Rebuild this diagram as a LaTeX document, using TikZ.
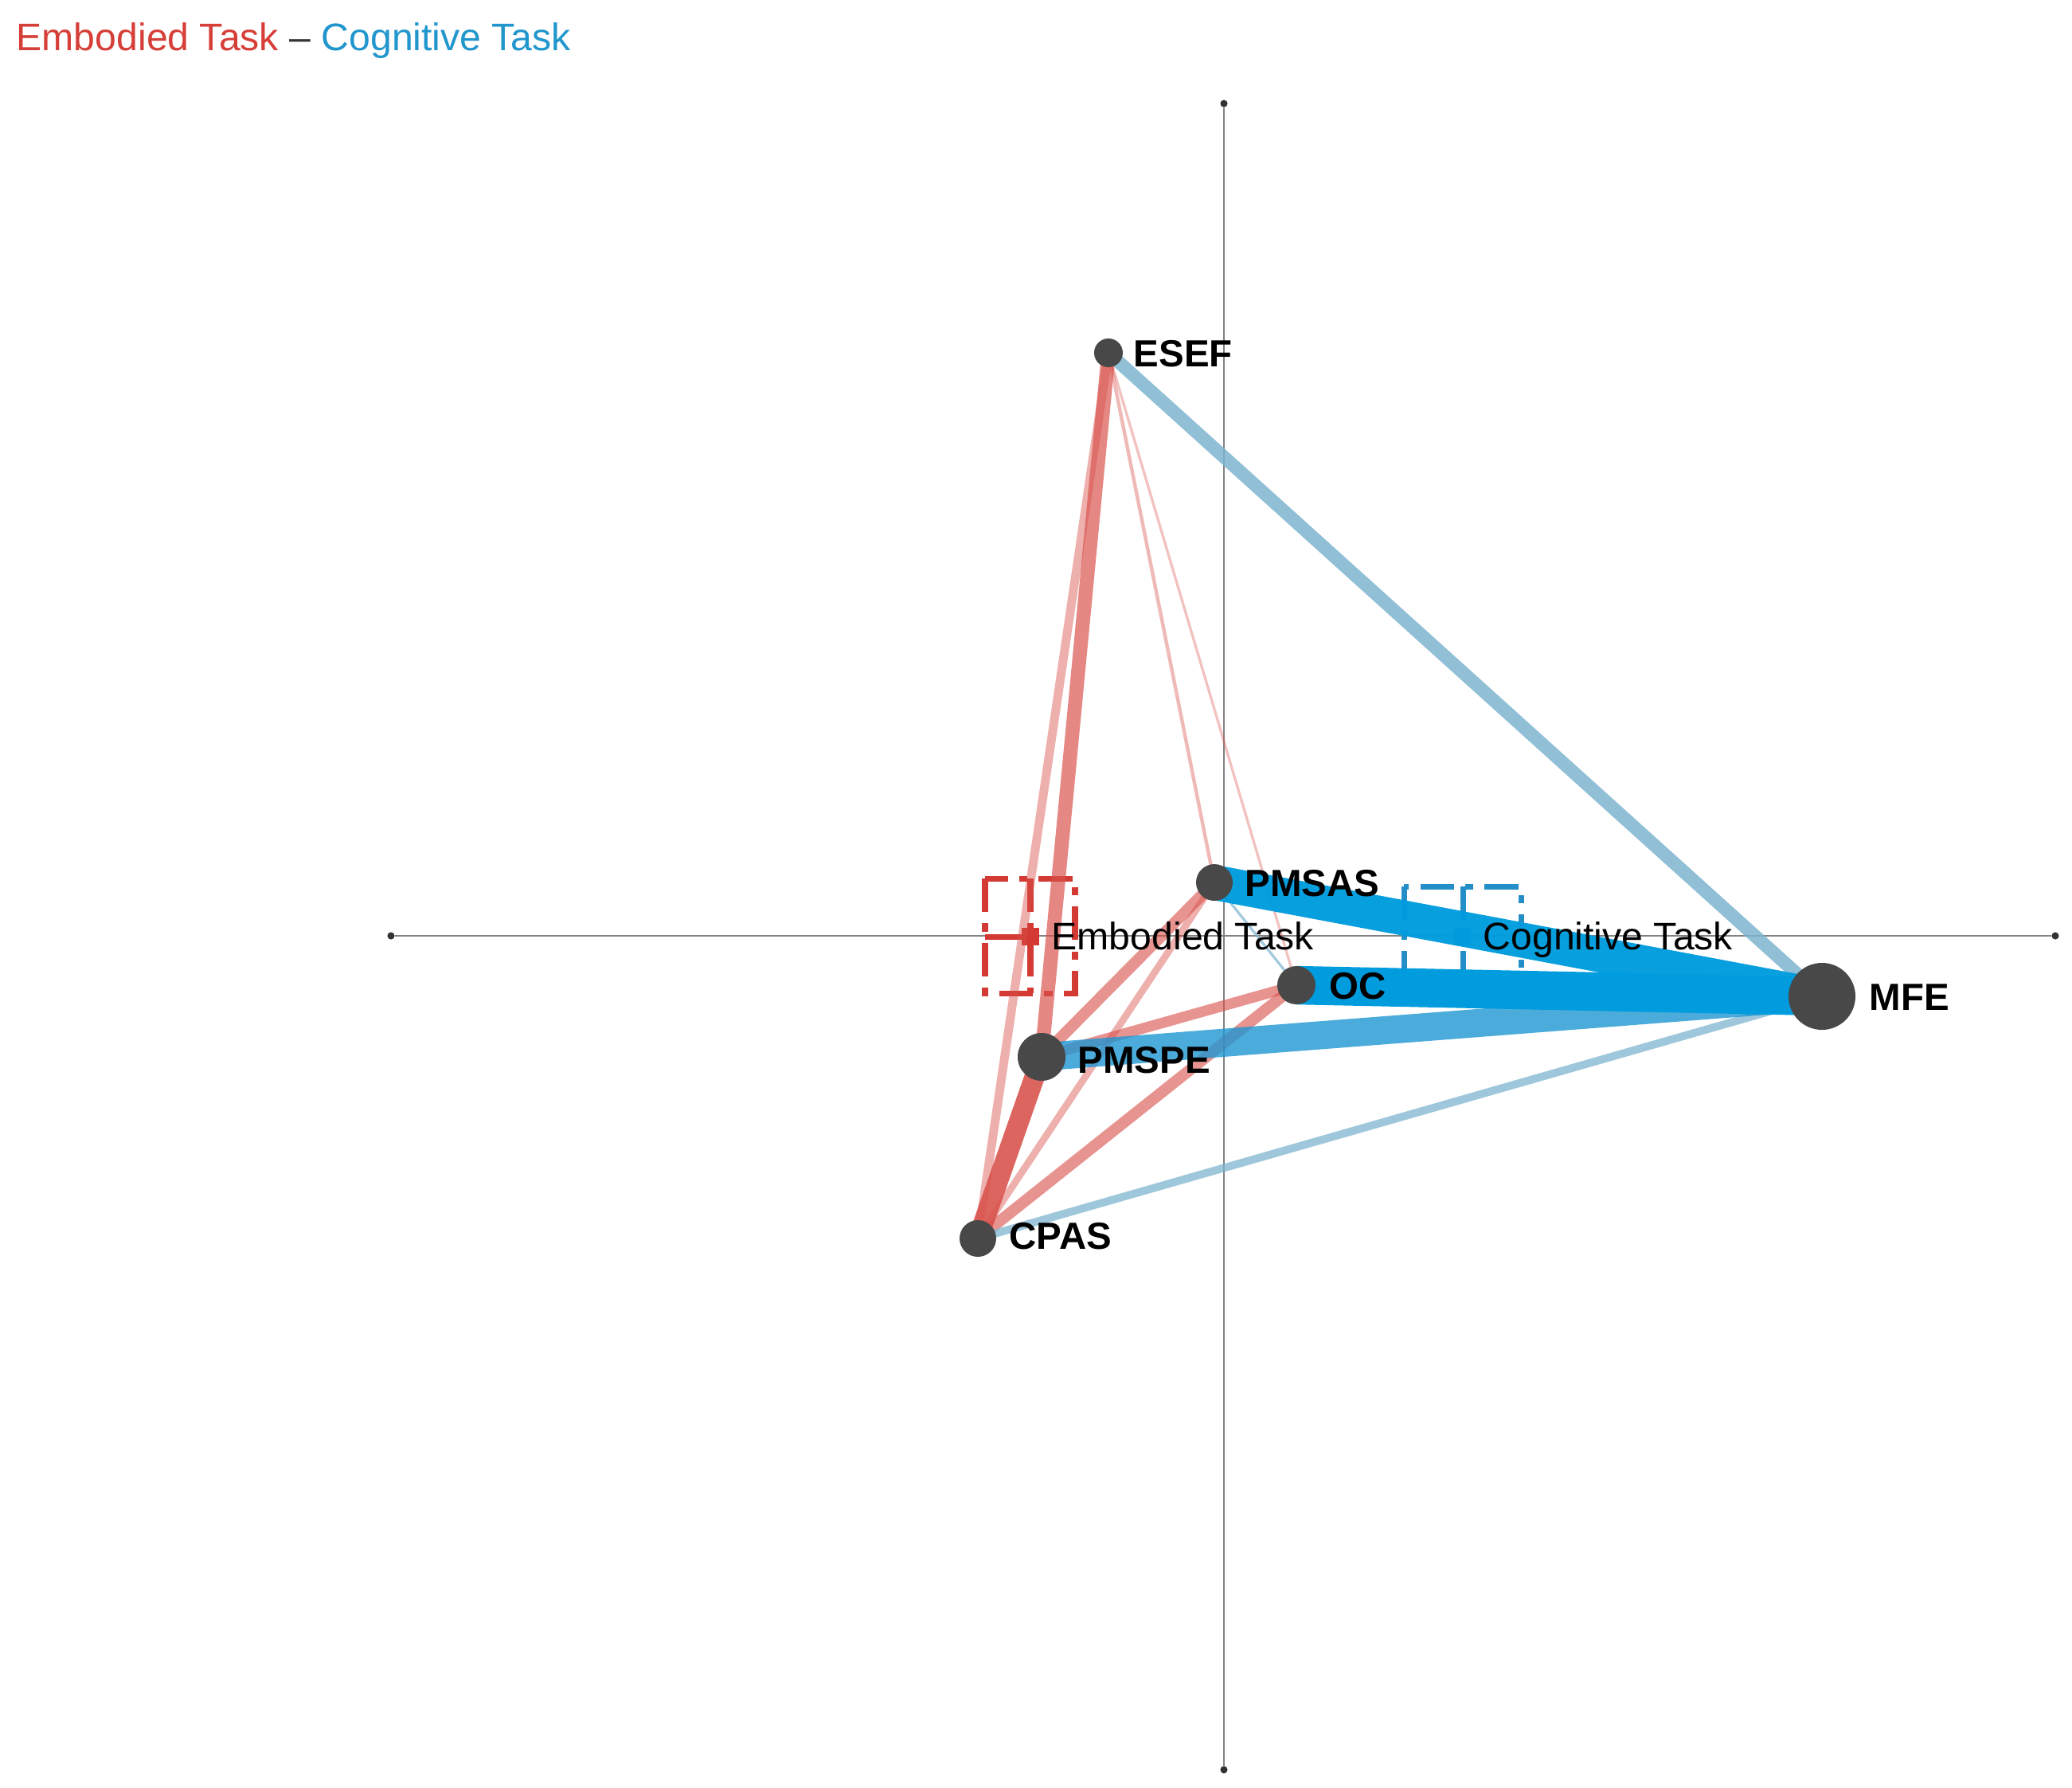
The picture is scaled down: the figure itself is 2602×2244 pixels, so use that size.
\documentclass[tikz,border=0pt]{standalone}
\usepackage{fontspec}
\setmainfont{Liberation Sans}
\definecolor{redT}{RGB}{214,62,56}
\definecolor{blueT}{RGB}{33,150,204}
\definecolor{redE}{RGB}{216,80,74}
\definecolor{blueV}{RGB}{0,156,222}
\definecolor{blueP}{RGB}{30,150,210}
\definecolor{blueS}{RGB}{125,180,207}
\definecolor{nodeG}{RGB}{72,72,72}
\definecolor{axisG}{RGB}{130,130,130}
\definecolor{redM}{RGB}{212,58,52}
\definecolor{blueM}{RGB}{35,142,200}
\begin{document}
\begin{tikzpicture}[x=0.01cm,y=-0.01cm,
  pt/.style={circle,fill=nodeG,inner sep=0pt,minimum size=#1*0.569pt},
  lab/.style={anchor=base west,inner sep=0pt,font=\fontsize{13.5pt}{15pt}\selectfont\bfseries},
  tlab/.style={anchor=base west,inner sep=0pt,font=\fontsize{13.7pt}{16pt}\selectfont},
  edge/.style 2 args={line width=#1*0.313pt,draw opacity=#2},
  axisline/.style={draw=axisG,line width=0.6pt},
  axend/.style={circle,fill=black!80,inner sep=0pt,minimum size=2.6pt},
  catmark/.style={line width=2pt,dash pattern=on 12pt off 4pt on 3pt off 4pt},
  catsq/.style={inner sep=0pt,minimum size=6pt}
]
\useasboundingbox (0,0) rectangle (2602,2244);
% title
\node[tlab] (title) at (20,63) {\textcolor{redT}{Embodied Task} \textcolor{black!80}{–} \textcolor{blueT}{Cognitive Task}};
% axes
\node[axend] (axL) at (491,1175) {};
\node[axend] (axR) at (2581,1175) {};
\node[axend] (axT) at (1537,130) {};
\node[axend] (axB) at (1537,2222) {};
\draw[axisline] (axL) -- (axR);
\draw[axisline] (axT) -- (axB);
% category markers
\draw[redM,catmark] (1237,1103) rectangle (1350,1247);
\draw[redM,catmark] (1294,1103) -- (1294,1247);
\draw[redM,line width=2pt] (1237,1176) -- (1290,1176);
\node[catsq,fill=redM] (mE) at (1294,1176) {};
\draw[blueM,catmark] (1763,1113) rectangle (1910,1240);
\draw[blueM,catmark] (1837,1113) -- (1837,1240);
\node[catsq,fill=blueM] (mC) at (1837,1176) {};
% node coordinates
\coordinate (cESEF) at (1392,443);
\coordinate (cPMSAS) at (1525,1108);
\coordinate (cOC) at (1628,1237);
\coordinate (cMFE) at (2288,1251);
\coordinate (cPMSPE) at (1308,1327);
\coordinate (cCPAS) at (1228,1555);
% red edges
\draw[redE,edge={16}{0.68}] (cESEF) -- (cPMSPE);
\draw[redE,edge={10}{0.45}] (cESEF) -- (cCPAS);
\draw[redE,edge={4}{0.4}] (cESEF) -- (cPMSAS);
\draw[redE,edge={3}{0.35}] (cESEF) -- (cOC);
\draw[redE,edge={8}{0.45}] (cCPAS) -- (cPMSAS);
\draw[redE,edge={13}{0.62}] (cCPAS) -- (cOC);
\draw[redE,edge={13}{0.62}] (cPMSPE) -- (cPMSAS);
\draw[redE,edge={12}{0.62}] (cPMSPE) -- (cOC);
\draw[redE,edge={23}{0.88}] (cCPAS) -- (cPMSPE);
% blue edges
\draw[blueS,edge={15}{0.85}] (cESEF) -- (cMFE);
\draw[blueS,edge={9}{0.75}] (cCPAS) -- (cMFE);
\draw[blueS,edge={3}{0.7}] (cPMSAS) -- (cOC);
\draw[blueP,edge={32}{0.8}] (cPMSPE) -- (cMFE);
\draw[blueV,edge={40}{0.97}] (cPMSAS) -- (cMFE);
\draw[blueV,edge={44}{1}] (cOC) -- (cMFE);
% category labels
\node[tlab] (lE) at (1320,1192) {Embodied Task};
\node[tlab] (lC) at (1862,1192) {Cognitive Task};
% nodes
\node[pt=18] (ESEF) at (cESEF) {};
\node[pt=23] (PMSAS) at (cPMSAS) {};
\node[pt=24] (OC) at (cOC) {};
\node[pt=42] (MFE) at (cMFE) {};
\node[pt=30] (PMSPE) at (cPMSPE) {};
\node[pt=23] (CPAS) at (cCPAS) {};
% labels
\node[lab] (tESEF) at (1423,460) {ESEF};
\node[lab] (tPMSAS) at (1563,1125) {PMSAS};
\node[lab] (tOC) at (1669,1254) {OC};
\node[lab] (tMFE) at (2347,1268) {MFE};
\node[lab] (tPMSPE) at (1353,1347) {PMSPE};
\node[lab] (tCPAS) at (1267,1568) {CPAS};
\end{tikzpicture}
\end{document}
